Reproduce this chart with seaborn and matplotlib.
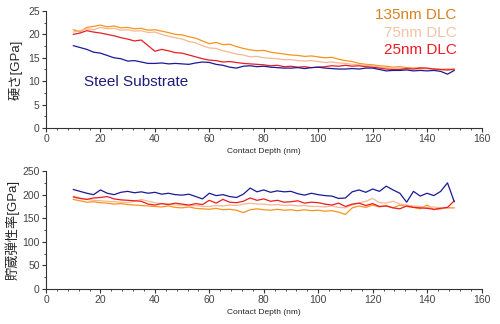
import numpy as np
import pandas as pd
import matplotlib
matplotlib.use("Agg")
import matplotlib.pyplot as plt
from matplotlib.ticker import AutoMinorLocator
import seaborn as sns

depth = np.arange(10, 150.01, 2.5)

hard_135 = [21.0, 20.6, 21.5, 21.7, 22.0, 21.6, 21.8, 21.4, 21.5, 21.2,
            21.3, 20.9, 21.0, 20.7, 20.4, 20.0, 19.9, 19.5, 19.2, 18.6,
            18.0, 18.3, 17.8, 17.9, 17.4, 17.0, 16.7, 16.5, 16.6, 16.2,
            16.0, 15.8, 15.6, 15.5, 15.3, 15.4, 15.2, 15.0, 15.1, 14.7,
            14.4, 14.2, 13.8, 13.6, 13.5, 13.3, 13.2, 13.0, 13.1, 12.9,
            12.8, 12.9, 12.7, 12.6, 12.5, 12.6, 12.4]
hard_75 = [20.5, 20.8, 21.2, 21.0, 21.5, 21.2, 21.3, 20.9, 21.0, 20.7,
           20.8, 20.4, 20.5, 20.0, 19.6, 19.3, 19.0, 18.5, 18.2, 17.6,
           17.1, 17.0, 16.5, 16.2, 15.8, 15.6, 15.2, 15.3, 15.0, 14.9,
           14.8, 14.6, 14.6, 14.4, 14.3, 14.4, 14.2, 14.0, 14.1, 13.9,
           13.8, 13.6, 13.5, 13.4, 13.3, 13.0, 12.9, 12.8, 12.8, 12.7,
           12.7, 12.6, 12.7, 12.6, 12.5, 12.4, 12.5]
hard_25 = [20.0, 20.3, 20.8, 20.5, 20.3, 20.0, 19.7, 19.3, 19.0, 18.6,
           18.8, 17.6, 16.4, 16.8, 16.5, 16.1, 16.0, 15.6, 15.2, 14.8,
           14.5, 14.4, 14.1, 14.2, 14.0, 13.8, 13.7, 13.6, 13.5, 13.3,
           13.4, 13.1, 13.2, 13.0, 13.1, 12.9, 13.0, 13.1, 13.3, 13.2,
           13.4, 13.2, 13.3, 13.1, 13.0, 12.8, 12.6, 12.5, 12.5, 12.7,
           12.6, 12.8, 12.8, 12.6, 12.5, 12.4, 12.6]
hard_steel = [17.6, 17.2, 16.8, 16.2, 16.0, 15.5, 15.0, 14.8, 14.3, 14.4,
              14.1, 13.8, 13.8, 13.9, 13.7, 13.8, 13.7, 13.6, 13.9, 14.1,
              14.0, 13.6, 13.4, 13.0, 12.8, 13.2, 13.3, 13.1, 13.2, 13.0,
              12.9, 12.8, 12.8, 12.9, 12.7, 12.9, 13.0, 12.8, 12.7, 12.6,
              12.6, 12.7, 12.6, 12.8, 12.8, 12.5, 12.2, 12.3, 12.3, 12.4,
              12.2, 12.3, 12.2, 12.3, 12.1, 11.5, 12.3]

mod_steel = [211, 207, 203, 200, 210, 203, 200, 205, 207, 204,
             206, 203, 205, 201, 203, 200, 199, 201, 196, 191,
             203, 198, 200, 196, 194, 201, 214, 206, 210, 205,
             208, 206, 207, 202, 199, 203, 200, 198, 197, 192,
             193, 206, 210, 205, 212, 207, 218, 210, 203, 184,
             207, 197, 203, 198, 207, 225, 185]
mod_25 = [195, 192, 190, 193, 194, 196, 191, 189, 188, 187,
          186, 180, 178, 181, 179, 182, 180, 178, 181, 179,
          188, 182, 190, 184, 183, 186, 193, 188, 191, 186,
          188, 184, 185, 187, 182, 184, 183, 180, 178, 182,
          175, 180, 182, 177, 181, 175, 176, 172, 170, 176,
          173, 172, 171, 169, 171, 173, 187]
mod_75 = [197, 193, 190, 188, 187, 186, 185, 184, 183, 186,
          190, 186, 183, 181, 180, 178, 178, 176, 177, 175,
          175, 177, 176, 178, 177, 180, 182, 180, 180, 178,
          179, 177, 178, 176, 177, 175, 175, 174, 176, 173,
          172, 178, 182, 186, 192, 183, 182, 186, 180, 178,
          176, 175, 173, 174, 172, 171, 172]
mod_135 = [190, 187, 184, 185, 183, 182, 180, 181, 179, 178,
           177, 176, 175, 174, 176, 173, 172, 174, 171, 170,
           169, 171, 168, 169, 167, 162, 168, 170, 168, 167,
           169, 167, 168, 166, 168, 166, 167, 165, 166, 163,
           158, 172, 176, 173, 178, 174, 177, 172, 178, 175,
           173, 170, 178, 168, 170, 173, 172]

labels = ["Steel Substrate", "25nm DLC", "75nm DLC", "135nm DLC"]
colors = {"Steel Substrate": "#1a1a96", "25nm DLC": "#ec1c24",
          "75nm DLC": "#f5b890", "135nm DLC": "#f7941d"}
text_colors = {"135nm DLC": "#d8821e", "75nm DLC": "#f2c3a6", "25nm DLC": "#ec1c24"}

hard = {"Steel Substrate": hard_steel, "25nm DLC": hard_25,
        "75nm DLC": hard_75, "135nm DLC": hard_135}
mod = {"Steel Substrate": mod_steel, "25nm DLC": mod_25,
       "75nm DLC": mod_75, "135nm DLC": mod_135}

df_h = pd.concat([pd.DataFrame({"depth": depth, "val": hard[k], "s": k}) for k in labels])
df_m = pd.concat([pd.DataFrame({"depth": depth, "val": mod[k], "s": k}) for k in labels])

sns.set_style("ticks")
plt.rcParams['font.family'] = ['Liberation Sans', 'Noto Sans CJK JP', 'DejaVu Sans']

fig = plt.figure(figsize=(5.0, 3.24), dpi=100)
ax1 = fig.add_axes([0.092, 0.605, 0.871, 0.361])
ax2 = fig.add_axes([0.092, 0.108, 0.871, 0.364])

draw_order = ["135nm DLC", "75nm DLC", "25nm DLC", "Steel Substrate"]
for ax, df in ((ax1, df_h), (ax2, df_m)):
    sns.lineplot(data=df, x="depth", y="val", hue="s", hue_order=draw_order,
                 palette=colors, ax=ax, legend=False, linewidth=0.9,
                 estimator=None, errorbar=None)

for ax in (ax1, ax2):
    ax.set_xlim(0, 160)
    ax.set_xticks([0, 20, 40, 60, 80, 100, 120, 140, 160])
    ax.xaxis.set_minor_locator(AutoMinorLocator(5))
    ax.yaxis.set_minor_locator(AutoMinorLocator(2))
    ax.tick_params(axis="both", which="major", labelsize=7.5, length=3,
                   width=0.8, colors="#333333", labelcolor="#444444", pad=1.5)
    ax.tick_params(axis="both", which="minor", length=1.5, width=0.6, colors="#333333")
    for sp in ("top", "right"):
        ax.spines[sp].set_visible(False)
    for sp in ("left", "bottom"):
        ax.spines[sp].set_linewidth(0.8)
        ax.spines[sp].set_color("#333333")
    ax.set_xlabel("Contact Depth (nm)", fontsize=6, labelpad=3)

ax1.set_ylim(0, 25)
ax1.set_yticks([0, 5, 10, 15, 20, 25])
ax2.set_ylim(0, 250)
ax2.set_yticks([0, 50, 100, 150, 200, 250])

ax1.set_ylabel("硬さ[GPa]", fontsize=9.5, labelpad=4)
ax2.set_ylabel("貯蔵弾性率[GPa]", fontsize=9.5, labelpad=2)

for txt, yy in (("135nm DLC", 0.97), ("75nm DLC", 0.815), ("25nm DLC", 0.67)):
    ax1.text(0.943, yy, txt, transform=ax1.transAxes, ha="right", va="center",
             fontsize=11, color=text_colors[txt])
ax1.text(0.088, 0.395, "Steel Substrate", transform=ax1.transAxes, ha="left",
         va="center", fontsize=11, color="#1c1c7a")

fig.savefig("out.png", dpi=100)
